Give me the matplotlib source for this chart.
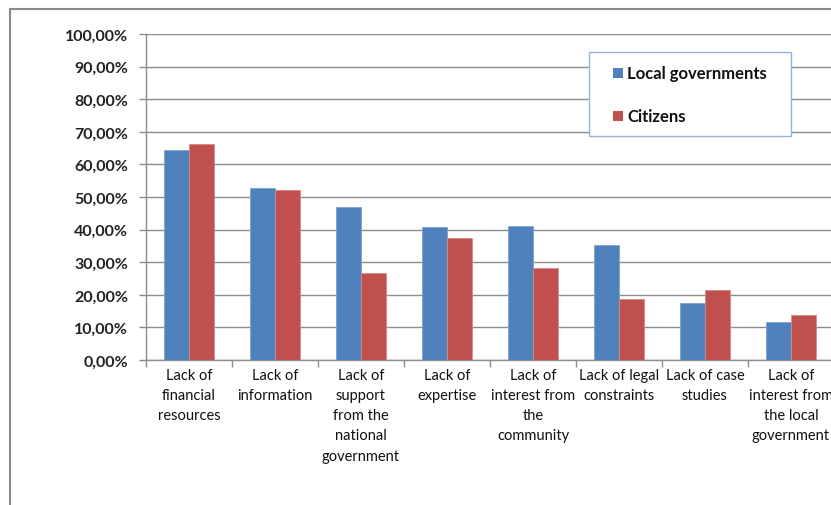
import matplotlib.pyplot as plt
import numpy as np
from matplotlib.patches import Rectangle

plt.rcParams['font.family'] = ['Lato', 'DejaVu Sans']

categories = ["Lack of\nfinancial\nresources",
              "Lack of\ninformation",
              "Lack of\nsupport\nfrom the\nnational\ngovernment",
              "Lack of\nexpertise",
              "Lack of\ninterest from\nthe\ncommunity",
              "Lack of legal\nconstraints",
              "Lack of case\nstudies",
              "Lack of\ninterest from\nthe local\ngovernment"]
series_names = ['Local governments', 'Citizens']
local_governments = [64.5, 52.9, 46.8, 40.9, 41.0, 35.2, 17.5, 11.7]
citizens = [66.2, 52.3, 26.6, 37.3, 28.1, 18.6, 21.4, 13.7]
yticks = [0, 10, 20, 30, 40, 50, 60, 70, 80, 90, 100]
colors = ['#4F81BD', '#C0504D']

W, H = 831, 506
fig = plt.figure(figsize=(W / 100, H / 100), dpi=100)
fig.patch.set_facecolor('white')


def fx(px):
    return px / W


def fy(py):
    return 1 - py / H


# chart area border (left and top edges visible)
fig.add_artist(Rectangle((fx(10), -0.1), 1.2, 1.1 - 10 / H, transform=fig.transFigure,
                         fill=False, edgecolor='#8a8a8a', linewidth=1.5, clip_on=False))

left, top, bottom = 146, 35, 361
ax = fig.add_axes([fx(left), fy(bottom), 688 / W, (bottom - top) / H])

x = np.arange(len(categories))
bw = 0.285
grid_col = '#8c8c8c'
ax.bar(x - bw / 2, local_governments, bw, color=colors[0], edgecolor='#7da2d2',
       linewidth=0.6, zorder=3)
ax.bar(x + bw / 2, citizens, bw, color=colors[1], edgecolor='#d48a88',
       linewidth=0.6, zorder=3)

ax.set_xlim(-0.5, len(categories) - 0.5)
ax.set_ylim(0, 100)
ax.set_yticks(yticks)
ax.set_yticklabels([('%.2f%%' % v).replace('.', ',') for v in yticks],
                   fontsize=11.5, fontweight='bold', color='#222222')
ax.yaxis.grid(True, color=grid_col, linewidth=1.0, zorder=0)
ax.set_axisbelow(True)

ax.set_xticks(x)
ax.set_xticklabels(categories, fontsize=10.5, linespacing=1.55, va='top', color='#111111')
ax.set_xticks(np.arange(-0.5, len(categories)), minor=True)
ax.tick_params(axis='x', which='major', length=0, pad=6)
ax.tick_params(axis='x', which='minor', length=5, color=grid_col, width=1)
ax.tick_params(axis='y', length=5, color=grid_col, width=1, pad=8)

for s in ['top', 'right']:
    ax.spines[s].set_visible(False)
for s in ['left', 'bottom']:
    ax.spines[s].set_color(grid_col)
    ax.spines[s].set_linewidth(1.0)

# legend box drawn by hand
fig.add_artist(Rectangle((fx(589), fy(137)), (791 - 589) / W, (137 - 53) / H,
                         transform=fig.transFigure, facecolor='white',
                         edgecolor='#95b3d7', linewidth=1.0, zorder=5))
for name, col, cy in zip(series_names, colors, [74, 117]):
    fig.add_artist(Rectangle((fx(613), fy(cy + 5)), 10 / W, 10 / H,
                             transform=fig.transFigure, facecolor=col,
                             edgecolor='none', zorder=6))
    fig.text(fx(627), fy(cy), name, fontsize=12, fontweight='bold',
             color='#111111', va='center', ha='left', zorder=7)

fig.savefig('out.png', dpi=100)
